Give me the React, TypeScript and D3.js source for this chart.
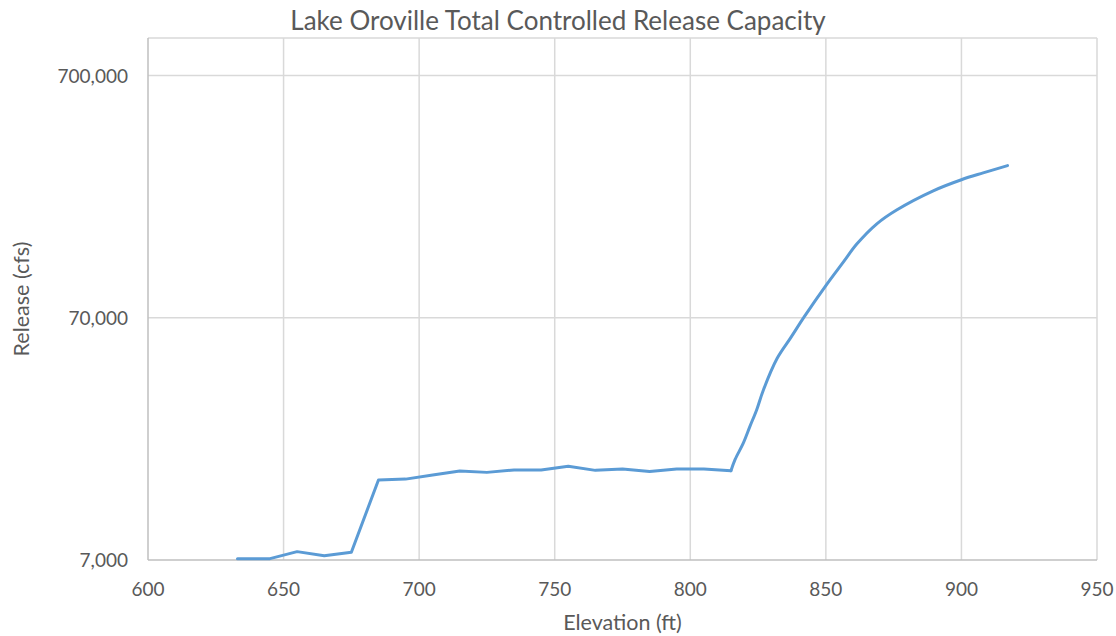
import React from "react";
import * as d3 from "d3";

const elevation = [633, 645, 655, 665, 675, 685, 695, 705, 715, 725, 735, 745, 755, 765, 775, 785, 795, 805, 815,
  816.5, 819.5, 822, 824.5, 827, 832, 837, 842, 850, 856.5, 861.4, 868.8, 876.1, 889.6, 900, 908, 917];
const release = [7090, 7090, 7580, 7290, 7540, 14970, 15100, 15700, 16320, 16100, 16470, 16470, 17050, 16410, 16630, 16250, 16630, 16630, 16350,
  18170, 21200, 24930, 29220, 35340, 47500, 57790, 70560, 95000, 119000, 141000, 171000, 195000, 234000, 260000, 277400, 297200];
const xTicks = [600, 650, 700, 750, 800, 850, 900, 950];
const yTicks = [7000, 70000, 700000];
const yMax = 1000000;
const title = "Lake Oroville Total Controlled Release Capacity";
const xTitle = "Elevation (ft)";
const yTitle = "Release (cfs)";

const W = 1116, H = 636;
const L = 148, R = 1097, T = 38, B = 560;
const FONT = "Lato, 'Open Sans', sans-serif";
const TXT = "#595959";

export default function App() {
  const x = d3.scaleLinear().domain([600, 950]).range([L, R]);
  const y = d3.scaleLog().domain([7000, yMax]).range([B, T]);
  const pts = elevation.map((e, i) => [e, release[i]] as [number, number]);
  const splitIdx = elevation.indexOf(815);
  const flat = pts.slice(0, splitIdx + 1);
  const rise = pts.slice(splitIdx);
  const lin = d3.line<[number, number]>().x(d => x(d[0])).y(d => y(d[1])).curve(d3.curveLinear);
  const smooth = d3.line<[number, number]>().x(d => x(d[0])).y(d => y(d[1])).curve(d3.curveCatmullRom.alpha(0.5));
  const fmt = d3.format(",");
  return (
    <svg width={W} height={H} style={{ position: "absolute", left: 0, top: 0, background: "#fff" }}>
      <rect x={0} y={0} width={W} height={H} fill="#fff" />
      <text x={558} y={30} textAnchor="middle" fontFamily={FONT} fontSize={26} fill={TXT}>{title}</text>
      {/* gridlines */}
      {xTicks.filter(t => t !== 600).map(t => (
        <line key={"gx" + t} x1={x(t)} x2={x(t)} y1={T} y2={B} stroke="#d9d9d9" strokeWidth={1.5} />
      ))}
      {yTicks.filter(t => t !== 7000).map(t => (
        <line key={"gy" + t} x1={L} x2={R} y1={y(t)} y2={y(t)} stroke="#d9d9d9" strokeWidth={1.5} />
      ))}
      <line x1={L} x2={R} y1={y(yMax)} y2={y(yMax)} stroke="#d9d9d9" strokeWidth={1.5} />
      {/* axes */}
      <line x1={L} x2={L} y1={T} y2={B} stroke="#bfbfbf" strokeWidth={1.5} />
      <line x1={L} x2={R} y1={B} y2={B} stroke="#bfbfbf" strokeWidth={1.5} />
      {/* tick labels */}
      {yTicks.map(t => (
        <text key={"yl" + t} x={128} y={y(t) + 7} textAnchor="end" fontFamily={FONT} fontSize={19} fill={TXT}>{fmt(t)}</text>
      ))}
      {xTicks.map(t => (
        <text key={"xl" + t} x={x(t)} y={596} textAnchor="middle" fontFamily={FONT} fontSize={19} fill={TXT}>{t}</text>
      ))}
      <text x={(L + R) / 2} y={630} textAnchor="middle" fontFamily={FONT} fontSize={21.5} fill={TXT}>{xTitle}</text>
      <text transform={`translate(29,${(T + B) / 2}) rotate(-90)`} textAnchor="middle" fontFamily={FONT} fontSize={21.5} fill={TXT}>{yTitle}</text>
      {/* series */}
      <path d={lin(flat) || ""} fill="none" stroke="#5B9BD5" strokeWidth={3} strokeLinejoin="round" strokeLinecap="round" />
      <path d={smooth(rise) || ""} fill="none" stroke="#5B9BD5" strokeWidth={3} strokeLinejoin="round" strokeLinecap="round" />
    </svg>
  );
}
